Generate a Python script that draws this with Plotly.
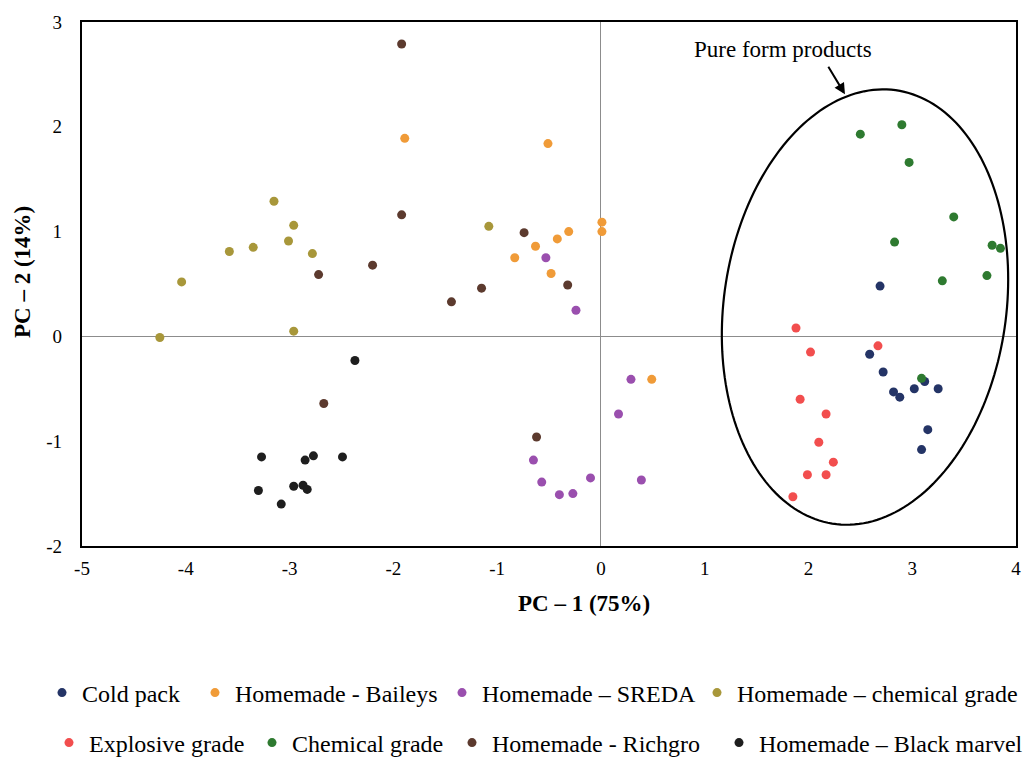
import numpy as np
import plotly.graph_objects as go

# ---- data (PC-1, PC-2 scores) ----
cold_pack_x = [2.69, 2.59, 2.72, 2.82, 2.88, 3.02, 3.25, 3.15, 3.09, 3.12]
cold_pack_y = [0.48, -0.17, -0.34, -0.53, -0.58, -0.50, -0.50, -0.89, -1.08, -0.43]

baileys_x = [-1.89, -0.51, 0.01, 0.01, -0.31, -0.42, -0.63, -0.83, -0.48, 0.49]
baileys_y = [1.89, 1.84, 1.09, 1.00, 1.00, 0.93, 0.86, 0.75, 0.60, -0.41]

sreda_x = [-0.53, -0.24, 0.29, 0.17, -0.65, -0.57, -0.40, -0.27, -0.10, 0.39]
sreda_y = [0.75, 0.25, -0.41, -0.74, -1.18, -1.39, -1.51, -1.50, -1.35, -1.37]

hm_chem_x = [-3.15, -2.96, -3.01, -3.58, -3.35, -2.78, -4.04, -1.08, -4.25, -2.96]
hm_chem_y = [1.29, 1.06, 0.91, 0.81, 0.85, 0.79, 0.52, 1.05, -0.01, 0.05]

explosive_x = [1.88, 2.02, 2.67, 1.92, 2.17, 2.10, 2.24, 1.99, 2.17, 1.85]
explosive_y = [0.08, -0.15, -0.09, -0.60, -0.74, -1.01, -1.20, -1.32, -1.32, -1.53]

chemical_x = [2.50, 2.90, 2.97, 3.40, 2.83, 3.77, 3.85, 3.72, 3.29, 3.09]
chemical_y = [1.93, 2.02, 1.66, 1.14, 0.90, 0.87, 0.84, 0.58, 0.53, -0.40]

richgro_x = [-1.92, -1.92, -2.72, -2.20, -1.15, -1.44, -0.74, -0.32, -2.67, -0.62]
richgro_y = [2.79, 1.16, 0.59, 0.68, 0.46, 0.33, 0.99, 0.49, -0.64, -0.96]

black_x = [-3.27, -3.30, -3.08, -2.96, -2.87, -2.83, -2.85, -2.77, -2.49, -2.37]
black_y = [-1.15, -1.47, -1.60, -1.43, -1.42, -1.46, -1.18, -1.14, -1.15, -0.23]

series_names = ["Cold pack", "Homemade - Baileys", "Homemade \u2013 SREDA",
                "Homemade \u2013 chemical grade", "Explosive grade", "Chemical grade",
                "Homemade - Richgro", "Homemade \u2013 Black marvel"]
series_x = [cold_pack_x, baileys_x, sreda_x, hm_chem_x, explosive_x, chemical_x, richgro_x, black_x]
series_y = [cold_pack_y, baileys_y, sreda_y, hm_chem_y, explosive_y, chemical_y, richgro_y, black_y]
series_colors = ["#243466", "#F09B38", "#9A4FAE", "#A8973A",
                 "#F24E4E", "#2E7A30", "#5C3A2E", "#1E1E1E"]

x_ticks = [-5, -4, -3, -2, -1, 0, 1, 2, 3, 4]
y_ticks = [-2, -1, 0, 1, 2, 3]

FONT = "Liberation Serif, Times New Roman, serif"

# plot-area geometry in pixels
W, H = 1030, 758
L, R, T, B = 82, 14, 22, 212
PW, PH = W - L - R, H - T - B

def px_x(p):
    return (p - L) / PW

def px_y(p):
    return (H - B - p) / PH

# legend layout: (text start x in px, row centre y in px) per series
legend_text_x = [82, 235, 482, 737, 89, 292, 492, 759]
legend_row_y = [693, 693, 693, 693, 743, 743, 743, 743]

fig = go.Figure()
layout_legends = {}
for i, (name, xs, ys, col) in enumerate(zip(series_names, series_x, series_y, series_colors)):
    key = "legend" if i == 0 else f"legend{i + 1}"
    fig.add_trace(go.Scatter(
        x=xs, y=ys, mode="markers", name=name, legend=key,
        marker=dict(color=col, size=9, line=dict(width=0)),
    ))
    layout_legends[key] = dict(
        x=px_x(legend_text_x[i] - 40), xanchor="left",
        y=px_y(legend_row_y[i]), yanchor="middle",
        orientation="h", bgcolor="rgba(0,0,0,0)", borderwidth=0,
        font=dict(family=FONT, size=24, color="black"),
    )

# ---- ellipse annotation ("pure form products") ----
cx, cy = 2.545, 0.28
semi_major, semi_minor = 2.09, 1.36
tilt = np.deg2rad(8.4)  # major axis leans right at the top
t = np.linspace(0, 2 * np.pi, 200)
ex = cx + semi_minor * np.cos(t) * np.cos(tilt) + semi_major * np.sin(t) * np.sin(tilt)
ey = cy - semi_minor * np.cos(t) * np.sin(tilt) + semi_major * np.sin(t) * np.cos(tilt)
path = "M " + " L ".join(f"{a:.4f},{b:.4f}" for a, b in zip(ex, ey)) + " Z"
fig.add_shape(type="path", path=path, xref="x", yref="y",
              line=dict(color="black", width=2.2), fillcolor="rgba(0,0,0,0)")

fig.add_annotation(x=2.352, y=2.31, ax=2.183, ay=2.587, xref="x", yref="y",
                   axref="x", ayref="y", text="", showarrow=True,
                   arrowhead=2, arrowsize=1.1, arrowwidth=2, arrowcolor="black")
fig.add_annotation(x=1.75, y=2.74, xref="x", yref="y", text="Pure form products",
                   showarrow=False, xanchor="center", yanchor="middle",
                   font=dict(family=FONT, size=23, color="black"))

# axis titles placed as in the reference
fig.add_annotation(x=px_x(584), y=px_y(603), xref="paper", yref="paper",
                   xanchor="center", yanchor="middle",
                   text="<b>PC \u2013 1 (75%)</b>", showarrow=False,
                   font=dict(family=FONT, size=23, color="black"))
fig.add_annotation(x=px_x(22), y=px_y(272), xref="paper", yref="paper",
                   xanchor="center", yanchor="middle",
                   text="<b>PC \u2013 2 (14%)</b>", showarrow=False, textangle=-90,
                   font=dict(family=FONT, size=23, color="black"))

fig.update_layout(
    width=W, height=H,
    margin=dict(l=L, r=R, t=T, b=B, autoexpand=False),
    paper_bgcolor="white", plot_bgcolor="white",
    font=dict(family=FONT, size=19, color="black"),
    showlegend=True,
    **layout_legends,
)
fig.update_xaxes(
    range=[-5, 4], tickvals=x_ticks, ticktext=[str(v) for v in x_ticks],
    showgrid=False, zeroline=True, zerolinecolor="#8C8C8C", zerolinewidth=1.2,
    showline=True, mirror=True, linecolor="black", linewidth=2.2, ticks="",
    tickfont=dict(family=FONT, size=19), ticklabelstandoff=4, automargin=False,
)
fig.update_yaxes(
    range=[-2, 3], tickvals=y_ticks, ticktext=[str(v) for v in y_ticks],
    showgrid=False, zeroline=True, zerolinecolor="#8C8C8C", zerolinewidth=1.2,
    showline=True, mirror=True, linecolor="black", linewidth=2.2, ticks="",
    tickfont=dict(family=FONT, size=19), ticklabelstandoff=14, automargin=False,
)

fig.write_html(
    "out.html",
    config={"displayModeBar": False},
    post_script="document.body.style.margin='0px';document.body.style.overflow='hidden';",
)
